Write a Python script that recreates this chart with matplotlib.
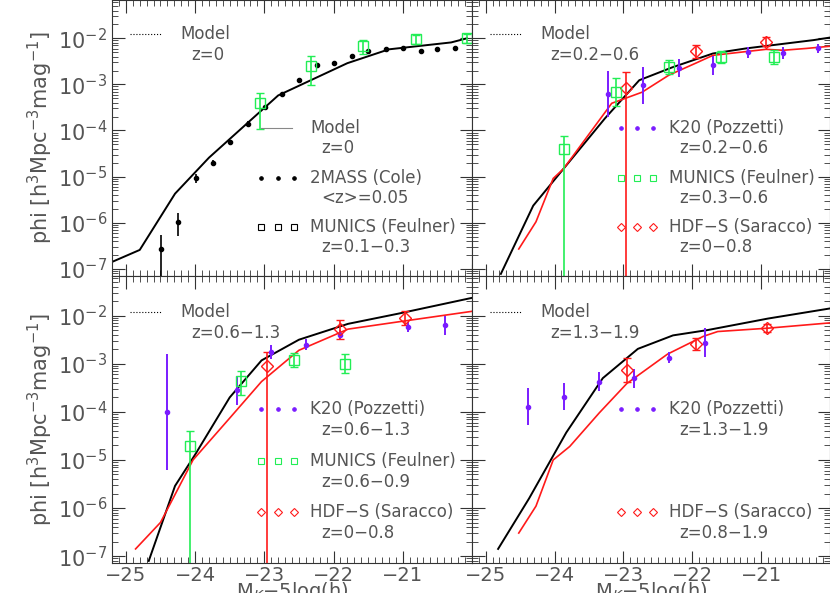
import numpy as np
import matplotlib.pyplot as plt
from matplotlib.ticker import LogLocator, MultipleLocator, NullFormatter

GREEN = '#22ee55'
PURPLE = '#7a1cff'
RED = '#ff1a1a'
TXT = '#555555'

# panel 1: z=0
p1_model_x = [-25.2, -24.8, -24.29, -23.8, -22.8, -21.8, -21.2, -20.3, -20.07]
p1_model_y = [-6.85, -6.59, -5.37, -4.59, -3.24, -2.54, -2.24, -2.09, -2.0]
p1_2mass_x = [-24.49, -24.24, -23.99, -23.74, -23.5, -23.24, -22.99, -22.74, -22.5,
              -22.24, -22.0, -21.74, -21.5, -21.24, -21.0, -20.74, -20.5, -20.24]
p1_2mass_y = [-6.57, -5.98, -5.04, -4.70, -4.26, -3.85, -3.48, -3.2, -2.91,
              -2.57, -2.54, -2.39, -2.28, -2.24, -2.22, -2.28, -2.24, -2.22]
p1_2mass_lo = [1.0, 0.3, 0.1, 0.05, 0.05, 0.05, 0.03, 0.03, 0.03, 0.03, 0.03, 0.03, 0.03, 0.03, 0.03, 0.03, 0.03, 0.03]
p1_2mass_hi = [0.3, 0.2, 0.1, 0.05, 0.05, 0.05, 0.03, 0.03, 0.03, 0.03, 0.03, 0.03, 0.03, 0.03, 0.03, 0.03, 0.03, 0.03]
p1_mun_x = [-23.06, -22.33, -21.57, -20.81, -20.07]
p1_mun_y = [-3.41, -2.61, -2.17, -2.02, -2.0]
p1_mun_lo = [0.55, 0.4, 0.17, 0.1, 0.1]
p1_mun_hi = [0.22, 0.22, 0.13, 0.1, 0.1]

# panel 2: z=0.2-0.6
p2_model_x = [-24.78, -24.31, -23.87, -23.27, -22.77, -22.29, -21.7, -21.22, -20.24, -19.98]
p2_model_y = [-7.11, -5.63, -4.83, -3.74, -2.91, -2.63, -2.33, -2.22, -2.04, -1.98]
p2_red_x = [-24.52, -24.27, -24.02, -23.87, -23.17, -22.73, -22.34, -21.95, -21.7, -20.93, -20.68, -20.34, -19.98]
p2_red_y = [-6.57, -5.98, -5.04, -4.83, -3.41, -3.17, -2.8, -2.54, -2.37, -2.24, -2.26, -2.22, -2.17]
p2_k20_x = [-23.23, -22.72, -22.2, -21.7, -21.19, -20.68, -20.17]
p2_k20_y = [-3.2, -3.02, -2.65, -2.59, -2.3, -2.32, -2.22]
p2_k20_err = [0.5, 0.4, 0.2, 0.2, 0.12, 0.12, 0.1]
p2_mun_x = [-23.87, -23.11, -22.34, -21.59, -20.81]
p2_mun_y = [-4.41, -3.17, -2.63, -2.41, -2.41]
p2_mun_lo = [3.0, 0.3, 0.15, 0.13, 0.15]
p2_mun_hi = [0.28, 0.3, 0.15, 0.13, 0.15]
p2_hdf_x = [-22.96, -21.94, -20.93]
p2_hdf_y = [-3.07, -2.28, -2.07]
p2_hdf_lo = [5.0, 0.14, 0.1]
p2_hdf_hi = [0.33, 0.14, 0.1]

# panel 3: z=0.6-1.3
p3_model_x = [-24.67, -24.29, -24.0, -23.5, -23.04, -22.5, -21.79, -21.07, -20.0]
p3_model_y = [-7.1, -5.54, -4.89, -3.7, -2.93, -2.5, -2.17, -1.96, -1.63]
p3_red_x = [-24.86, -24.5, -24.03, -23.5, -23.04, -22.5, -21.79, -21.07, -20.0]
p3_red_y = [-6.85, -6.3, -5.0, -4.13, -3.37, -2.72, -2.28, -2.13, -1.91]
p3_k20_x = [-24.4, -23.39, -22.9, -22.4, -21.9, -20.93, -20.39]
p3_k20_y = [-4.0, -3.55, -2.75, -2.6, -2.4, -2.24, -2.2]
p3_k20_err = [1.2, 0.3, 0.15, 0.12, 0.1, 0.1, 0.2]
p3_mun_x = [-24.07, -23.33, -22.57, -21.83]
p3_mun_y = [-4.7, -3.35, -2.92, -3.0]
p3_mun_lo = [3.0, 0.3, 0.15, 0.2]
p3_mun_hi = [0.3, 0.2, 0.15, 0.2]
p3_hdf_x = [-22.96, -21.9, -20.96]
p3_hdf_y = [-3.05, -2.28, -2.05]
p3_hdf_lo = [5.0, 0.2, 0.15]
p3_hdf_hi = [0.3, 0.2, 0.15]

# panel 4: z=1.3-1.9
p4_model_x = [-24.82, -24.37, -23.83, -23.3, -22.79, -22.28, -21.78, -20.9, -20.0]
p4_model_y = [-6.85, -5.8, -4.43, -3.3, -2.69, -2.41, -2.3, -2.06, -1.85]
p4_red_x = [-24.52, -24.27, -24.02, -23.78, -23.35, -22.95, -22.36, -21.84, -21.63, -20.9, -20.0]
p4_red_y = [-6.52, -5.96, -5.0, -4.72, -4.02, -3.41, -2.8, -2.43, -2.33, -2.26, -2.15]
p4_k20_x = [-24.38, -23.87, -23.36, -22.85, -22.34, -21.82]
p4_k20_y = [-3.89, -3.69, -3.37, -3.3, -2.87, -2.56]
p4_k20_err = [0.38, 0.28, 0.2, 0.2, 0.12, 0.3]
p4_hdf_x = [-22.95, -21.94, -20.92]
p4_hdf_y = [-3.13, -2.59, -2.26]
p4_hdf_err = [0.25, 0.12, 0.08]

fig = plt.figure(figsize=(8.3, 5.93), dpi=100)
L, M, R = 0.135, 0.5686, 1.0
B, C, T = 0.05, 0.535, 1.0
axes = [fig.add_axes([L, C, M - L, T - C]), fig.add_axes([M, C, R - M, T - C]),
        fig.add_axes([L, B, M - L, C - B]), fig.add_axes([M, B, R - M, C - B])]


def pw(v):
    return 10.0 ** np.asarray(v, dtype=float)


def errs(y, lo, hi):
    y = np.asarray(y)
    return [pw(y) - pw(y - np.asarray(lo)), pw(y + np.asarray(hi)) - pw(y)]


def legend(ax, entries):
    # entries: (kind, color, line1, line2, yfrac)
    for kind, col, t1, t2, yf in entries:
        if kind == 'dotted':
            ax.plot([0.05, 0.14], [yf, yf], ':', color='k', lw=0.8, transform=ax.transAxes)
        elif kind == 'solid':
            ax.plot([0.415, 0.5], [yf, yf], '-', color='#888888', lw=0.8, transform=ax.transAxes)
        else:
            mk = {'dot': 'o', 'square': 's', 'diamond': 'D'}[kind]
            ms = {'dot': 2.5, 'square': 5, 'diamond': 4}[kind]
            fc = col if kind == 'dot' else 'none'
            ax.plot([0.415, 0.46, 0.505], [yf] * 3, mk, ms=ms, mfc=fc, mec=col, mew=0.8,
                    ls='none', transform=ax.transAxes)
        xt = 0.19 if kind == 'dotted' else 0.55
        ax.text(xt, yf, t1, transform=ax.transAxes, va='center', fontsize=12, color=TXT)
        ax.text(xt + 0.03, yf - 0.073, t2, transform=ax.transAxes, va='center', fontsize=12, color=TXT)


ax = axes[0]
ax.plot(p1_model_x, pw(p1_model_y), 'k-', lw=1.4)
ax.errorbar(p1_2mass_x, pw(p1_2mass_y), yerr=errs(p1_2mass_y, p1_2mass_lo, p1_2mass_hi),
            fmt='o', ms=3, color='k', lw=1.2)
ax.errorbar(p1_mun_x, pw(p1_mun_y), yerr=errs(p1_mun_y, p1_mun_lo, p1_mun_hi), fmt='s', ms=7,
            mfc='none', mec=GREEN, color=GREEN, lw=1.2, capsize=3)
legend(ax, [('dotted', 'k', 'Model', 'z=0', 0.875),
            ('solid', 'k', 'Model', 'z=0', 0.535),
            ('dot', 'k', '2MASS (Cole)', '<z>=0.05', 0.355),
            ('square', 'k', 'MUNICS (Feulner)', 'z=0.1\u22120.3', 0.177)])

for ax, mx, my, rx, ry, kx, ky, ke, hx, hy, hlo, hhi in [
        (axes[1], p2_model_x, p2_model_y, p2_red_x, p2_red_y, p2_k20_x, p2_k20_y, p2_k20_err,
         p2_hdf_x, p2_hdf_y, p2_hdf_lo, p2_hdf_hi),
        (axes[2], p3_model_x, p3_model_y, p3_red_x, p3_red_y, p3_k20_x, p3_k20_y, p3_k20_err,
         p3_hdf_x, p3_hdf_y, p3_hdf_lo, p3_hdf_hi),
        (axes[3], p4_model_x, p4_model_y, p4_red_x, p4_red_y, p4_k20_x, p4_k20_y, p4_k20_err,
         p4_hdf_x, p4_hdf_y, p4_hdf_err, p4_hdf_err)]:
    ax.plot(mx, pw(my), 'k-', lw=1.4)
    ax.plot(rx, pw(ry), '-', color=RED, lw=1.2)
    ax.errorbar(kx, pw(ky), yerr=errs(ky, ke, ke), fmt='o', ms=3, color=PURPLE, lw=1.4)
    ax.errorbar(hx, pw(hy), yerr=errs(hy, hlo, hhi), fmt='D', ms=6, mfc='none', mec=RED,
                color=RED, lw=1.2, capsize=3)

axes[1].errorbar(p2_mun_x, pw(p2_mun_y), yerr=errs(p2_mun_y, p2_mun_lo, p2_mun_hi), fmt='s', ms=7,
                 mfc='none', mec=GREEN, color=GREEN, lw=1.2, capsize=3)
axes[2].errorbar(p3_mun_x, pw(p3_mun_y), yerr=errs(p3_mun_y, p3_mun_lo, p3_mun_hi), fmt='s', ms=7,
                 mfc='none', mec=GREEN, color=GREEN, lw=1.2, capsize=3)

legend(axes[1], [('dotted', 'k', 'Model', 'z=0.2\u22120.6', 0.875),
                 ('dot', PURPLE, 'K20 (Pozzetti)', 'z=0.2\u22120.6', 0.535),
                 ('square', GREEN, 'MUNICS (Feulner)', 'z=0.3\u22120.6', 0.355),
                 ('diamond', RED, 'HDF\u2212S (Saracco)', 'z=0\u22120.8', 0.177)])
legend(axes[2], [('dotted', 'k', 'Model', 'z=0.6\u22121.3', 0.875),
                 ('dot', PURPLE, 'K20 (Pozzetti)', 'z=0.6\u22121.3', 0.535),
                 ('square', GREEN, 'MUNICS (Feulner)', 'z=0.6\u22120.9', 0.355),
                 ('diamond', RED, 'HDF\u2212S (Saracco)', 'z=0\u22120.8', 0.177)])
legend(axes[3], [('dotted', 'k', 'Model', 'z=1.3\u22121.9', 0.875),
                 ('dot', PURPLE, 'K20 (Pozzetti)', 'z=1.3\u22121.9', 0.535),
                 ('diamond', RED, 'HDF\u2212S (Saracco)', 'z=0.8\u22121.9', 0.177)])

for i, ax in enumerate(axes):
    ax.set_yscale('log')
    ax.set_xlim(-25.2, -20.0)
    ax.set_ylim(10 ** -7.15, 10 ** -1.17)
    ax.xaxis.set_major_locator(MultipleLocator(1))
    ax.xaxis.set_minor_locator(MultipleLocator(0.1))
    ax.yaxis.set_major_locator(LogLocator(base=10, numticks=10))
    ax.yaxis.set_minor_locator(LogLocator(base=10, subs=np.arange(2, 10), numticks=20))
    ax.tick_params(which='both', direction='in', top=True, right=True, colors='#333333',
                   labelsize=15, labelcolor=TXT)
    ax.tick_params(which='major', length=9)
    ax.tick_params(which='minor', length=4)
    ax.tick_params(axis='x', pad=2, labelsize=14)
    for s in ax.spines.values():
        s.set_color('#333333')
    if i % 2 == 1:
        ax.yaxis.set_major_formatter(NullFormatter())
    else:
        ax.set_ylabel(r'phi [h$^3$Mpc$^{-3}$mag$^{-1}$]', fontsize=15, color=TXT, labelpad=2)
    ax.yaxis.set_minor_formatter(NullFormatter())
    if i < 2:
        ax.xaxis.set_major_formatter(NullFormatter())
    else:
        ax.set_xticks([-25, -24, -23, -22, -21])
        ax.set_xticklabels(['\u221225', '\u221224', '\u221223', '\u221222', '\u221221'])
        ax.set_xlabel('M$_K$\u22125log(h)', fontsize=14, color=TXT, labelpad=-4)

fig.savefig('out.png', dpi=100)
